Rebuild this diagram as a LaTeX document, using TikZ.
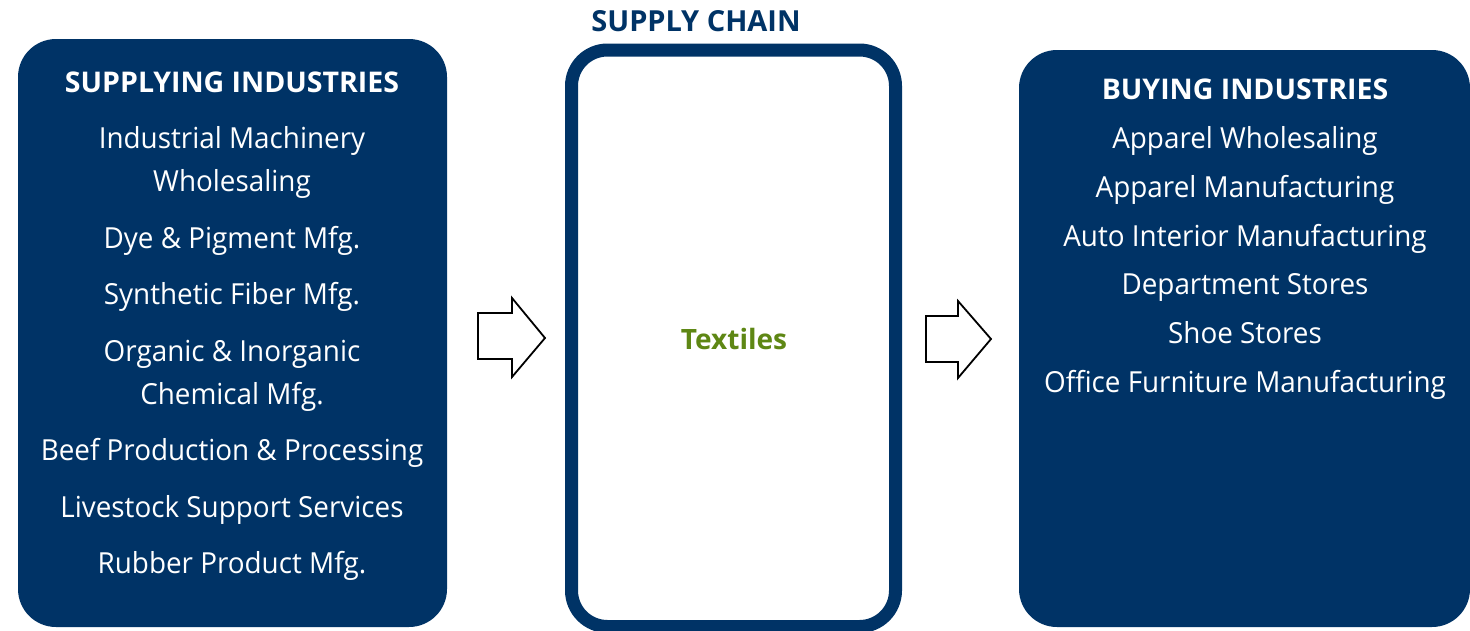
\documentclass[tikz,border=0pt]{standalone}
\usepackage{fontspec}
\setmainfont{Open Sans}[FakeStretch=0.96]
\newfontfamily\headface{Open Sans}
\definecolor{navy}{RGB}{0,51,102}
\definecolor{leaf}{RGB}{94,135,20}
\begin{document}
\begin{tikzpicture}[x=1pt,y=-1pt,
  panel/.style={fill=navy,draw=none,rounded corners=38pt},
  head/.style={text=white,font=\headface\fontsize{28.5}{32}\selectfont\bfseries,anchor=base},
  item/.style={text=white,font=\fontsize{29}{33}\selectfont,anchor=base},
  blockarrow/.style={draw=black,line width=1.8pt,fill=white,line join=miter}]
\useasboundingbox (0,0) rectangle (1470,630);
% supplying side
\fill[panel] (18,39) rectangle (447,627);
\node[head] (suphead) at (232,92) {SUPPLYING INDUSTRIES};
\node[item] (s1) at (232,148) {Industrial Machinery};
\node[item] (s2) at (232,191) {Wholesaling};
\node[item] (s3) at (232,248) {Dye \& Pigment Mfg.};
\node[item] (s4) at (232,304) {Synthetic Fiber Mfg.};
\node[item] (s5) at (232,361) {Organic \& Inorganic};
\node[item] (s6) at (232,404) {Chemical Mfg.};
\node[item] (s7) at (232,460) {Beef Production \& Processing};
\node[item] (s8) at (232,517) {Livestock Support Services};
\node[item] (s9) at (232,573) {Rubber Product Mfg.};
% supply chain column
\node[anchor=base,text=navy,font=\headface\fontsize{29}{33}\selectfont\bfseries] (chain) at (696,31) {SUPPLY CHAIN};
\draw[draw=navy,line width=13pt,fill=white,rounded corners=36pt] (571.5,50) rectangle (895.5,626.5);
\node[anchor=base,text=leaf,font=\headface\fontsize{28}{32}\selectfont\bfseries] (textiles) at (734,349) {Textiles};
% buying side
\fill[panel] (1019,50) rectangle (1470,627);
\node[head] (buyhead) at (1245,99) {BUYING INDUSTRIES};
\node[item] (b1) at (1245,148) {Apparel Wholesaling};
\node[item] (b2) at (1245,197) {Apparel Manufacturing};
\node[item] (b3) at (1245,246) {Auto Interior Manufacturing};
\node[item] (b4) at (1245,294) {Department Stores};
\node[item] (b5) at (1245,343) {Shoe Stores};
\node[item] (b6) at (1245,392) {Office Furniture Manufacturing};
% block arrows
\draw[blockarrow] (478,313) -- (512,313) -- (512,298) -- (545,338) -- (512,377) -- (512,359) -- (478,359) -- cycle;
\draw[blockarrow] (926,316) -- (958,316) -- (958,301) -- (991,339) -- (958,378) -- (958,362) -- (926,362) -- cycle;
\end{tikzpicture}
\end{document}
